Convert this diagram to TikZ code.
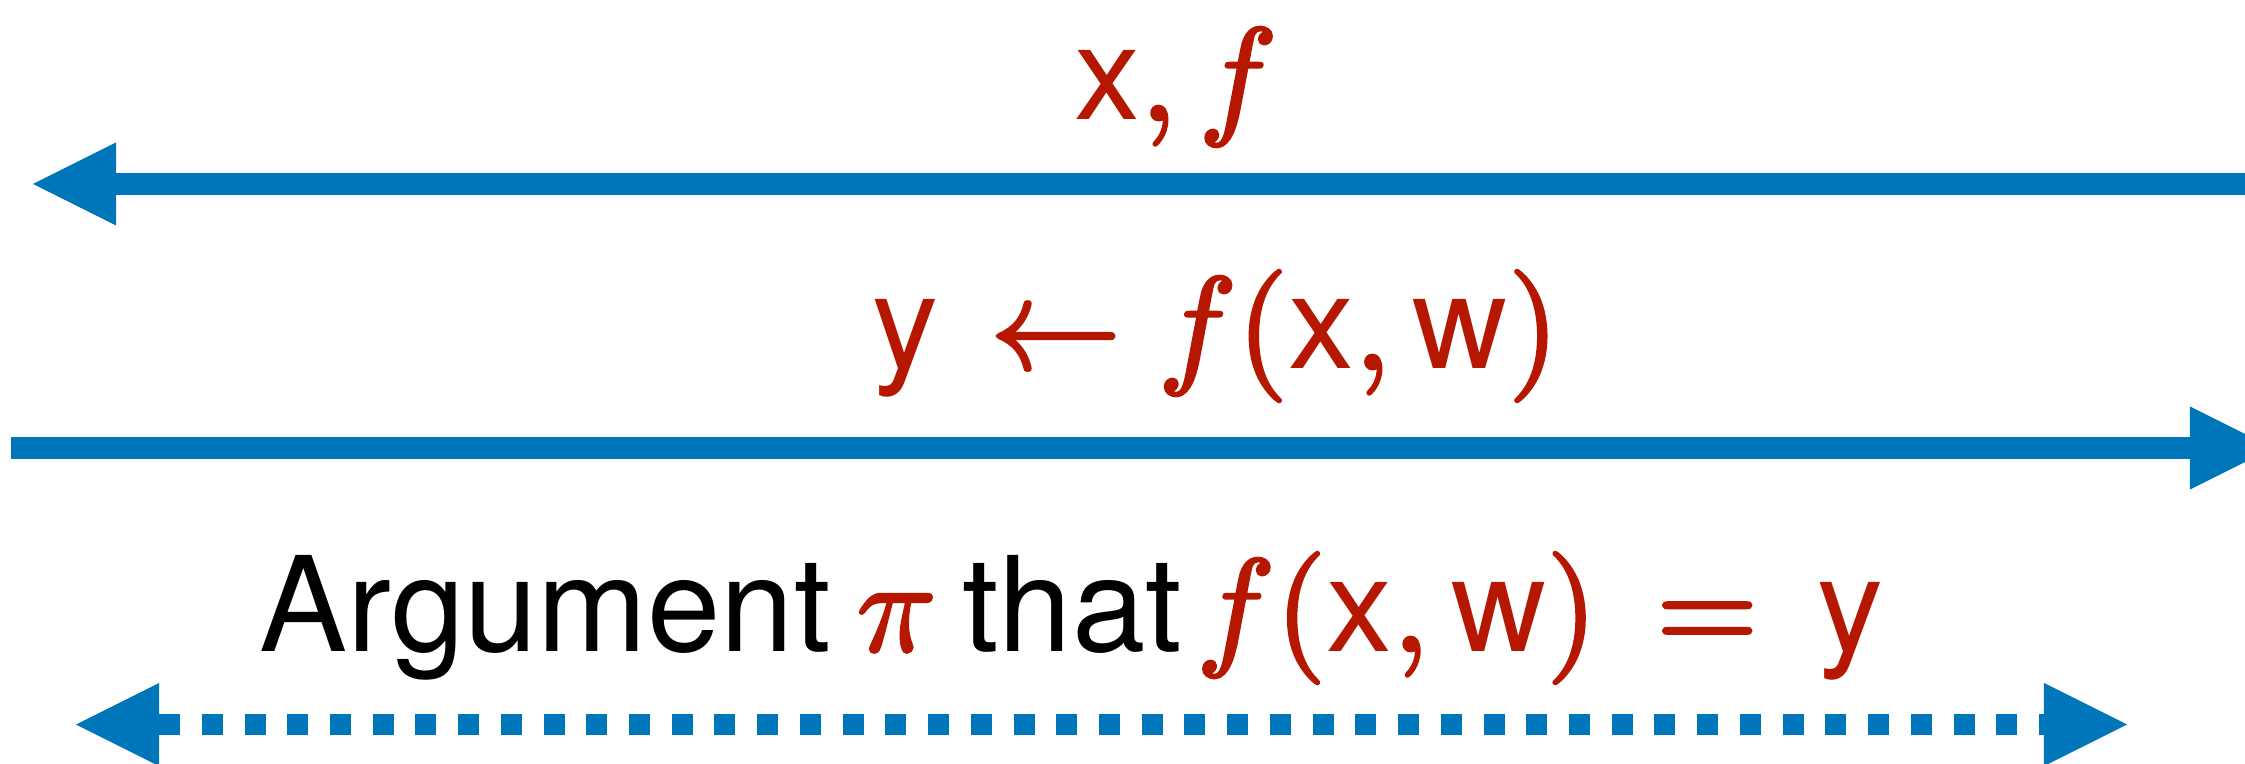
\documentclass[tikz,border=0pt]{standalone}
\usepackage[no-math]{fontspec}
\setsansfont{TeX Gyre Heros}
\usetikzlibrary{arrows.meta}
\definecolor{kblue}{HTML}{0076BA}
\definecolor{kred}{HTML}{B51700}
% scale the 10pt designs of the math fonts
\DeclareFontShape{OML}{cmm}{m}{it}{<-> cmmi10}{\skewchar\font'177}
\DeclareFontShape{OMS}{cmsy}{m}{n}{<-> cmsy10}{\skewchar\font'60}
\DeclareFontShape{OT1}{cmr}{m}{n}{<-> cmr10}{}
\DeclareFontShape{OMX}{cmex}{m}{n}{<-> cmex10}{}
% heavier math glyphs, sans letters left as they are
\newcommand\heavy[1]{\special{pdf:literal direct 2 Tr 0.8 w 1 j}#1\special{pdf:literal direct 0 Tr}}
\newcommand\sfv[1]{\textsf{\special{pdf:literal direct 0 Tr}#1\special{pdf:literal direct 2 Tr}}}

\begin{document}
\begin{tikzpicture}[x=0.01cm, y=-0.01cm,
  flow/.style={line width=0.21cm, kblue},
  lbl/.style={inner sep=0pt, text=kred, font=\fontsize{37.5}{45}\selectfont},
  txt/.style={lbl, text=black, font=\fontsize{37.5}{45}\selectfont\sffamily}]
\def\tip{Triangle[length=0.83cm, width=0.83cm, line width=0pt]}
\useasboundingbox (0,0) rectangle (2245,764);

\coordinate (topR) at (2270,184);
\coordinate (topL) at (33,184);
\coordinate (midL) at (11,448);
\coordinate (midR) at (2273,448);
\coordinate (botL) at (76,724.5);
\coordinate (botR) at (2127,724.5);

% backward pass
\draw[flow, -{\tip}] (topR) -- (topL);
% forward pass
\draw[flow, -{\tip}] (midL) -- (midR);
% whole path
\draw[flow, dash pattern=on 0.21cm off 0.217cm, {\tip}-{\tip}] (botL) -- (botR);

\node[lbl, anchor=base] (grad) at (1176,120) {\heavy{$\sfv{x},f$}};
\node[lbl, anchor=base east] (upd) at (1560,369)
  {\heavy{$\sfv{y} \mskip2mu\leftarrow f(\sfv{x}, \sfv{w})$}};

\node[txt, anchor=base west] (arg) at (259,651) {Argument};
\node[lbl, anchor=base west] (pi) at (856,651) {\heavy{$\pi$}};
\node[txt, anchor=base west] (that) at (962,651) {that};
\node[lbl, anchor=base east] (goal) at (1884,651)
  {\heavy{$f(\sfv{x}, \sfv{w}) \mskip3mu=\mskip3mu \sfv{y}$}};
\end{tikzpicture}
\end{document}
